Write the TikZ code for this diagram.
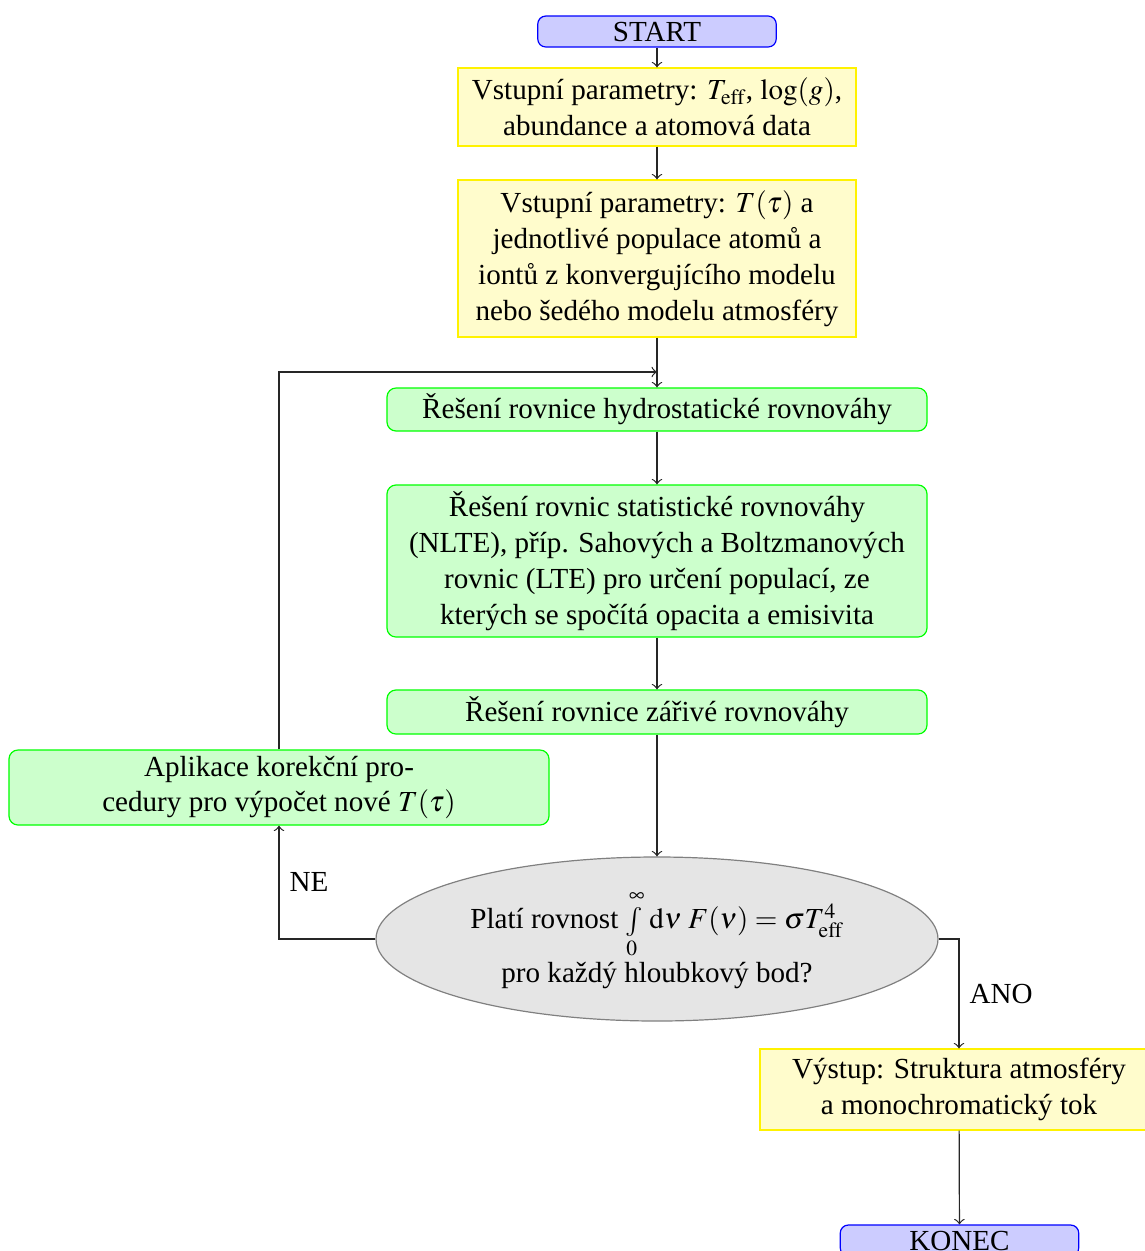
\documentclass[tikz,border=0pt]{standalone}
\usepackage{mathptmx}
\usepackage{fontspec}
\setmainfont{Liberation Serif}
\usetikzlibrary{shapes.geometric}
\begin{document}
\begin{tikzpicture}[x=0.33333pt,y=-0.33333pt,
  font=\fontsize{9.7}{12}\selectfont,
  term/.style={rectangle, draw=blue, fill=blue!20, rounded corners=2.7pt, inner sep=0pt,
    minimum width=79.5pt, minimum height=10.33pt},
  iobox/.style={rectangle, draw=yellow, fill=yellow!20, align=center,
    inner xsep=3.33pt, inner ysep=1pt, minimum width=132.67pt},
  procbox/.style={rectangle, draw=green, fill=green!20, rounded corners=3pt,
    align=center, inner xsep=3.33pt, inner ysep=1pt, minimum width=180pt},
  decbox/.style={ellipse, draw=gray, fill=gray!20, minimum width=187.33pt,
    minimum height=54.67pt, align=center, inner sep=0pt},
  conn/.style={->, black!85}]
\useasboundingbox (0,0) rectangle (1145,1251);

\node[term] (start) at (657,31.5) {START};
\node[iobox, minimum height=26pt] (in1) at (657,107)
  {Vstupní parametry: $T_{\mathrm{eff}}$, $\log(g)$,\\ abundance a atomová data};
\node[iobox, minimum height=52.33pt] (in2) at (657,258.5)
  {Vstupní parametry: $T(\tau)$ a\\ jednotlivé populace atomů a\\ iontů z konvergujícího modelu\\ nebo šedého modelu atmosféry};
\node[procbox, minimum height=14.33pt] (g1) at (657,409.5)
  {Řešení rovnice hydrostatické rovnováhy};
\node[procbox, minimum height=50.67pt] (g2) at (657,561)
  {Řešení rovnic statistické rovnováhy\\ (NLTE), příp. Sahových a Boltzmanových\\ rovnic (LTE) pro určení populací, ze\\ kterých se spočítá opacita a emisivita};
\node[procbox, minimum height=14.67pt] (g3) at (657,712)
  {Řešení rovnice zářivé rovnováhy};
\node[procbox, minimum height=25pt] (g4) at (279,787.5)
  {Aplikace korekční pro-\\ cedury pro výpočet nové $T(\tau)$};
\node[decbox] (dec) at (657,939)
  {Platí rovnost $\int\limits_0^\infty \,\mathrm{d}\nu\; F(\nu) = \sigma T_{\mathrm{eff}}^4$\\ pro každý hloubkový bod?};
\node[iobox, minimum height=27pt] (out) at (959,1089.5)
  {Výstup: Struktura atmosféry\\ a monochromatický tok};
\node[term] (konec) at (959.5,1240.5) {KONEC};

\coordinate (loop) at (657,372);

\draw[conn] (start) -- (in1);
\draw[conn] (in1) -- (in2);
\draw[conn] (in2) -- (g1);
\draw[conn] (g1) -- (g2);
\draw[conn] (g2) -- (g3);
\draw[conn] (g3) -- (dec);
\draw[conn] (g4.north) |- (loop);
\draw[conn] (dec.west) -| node[pos=0.75, right, black] {NE} (g4.south);
\draw[conn] (dec.east) -| node[pos=0.75, right, black] {ANO} (out.north);
\draw[conn] (out) -- (konec);
\end{tikzpicture}
\end{document}
